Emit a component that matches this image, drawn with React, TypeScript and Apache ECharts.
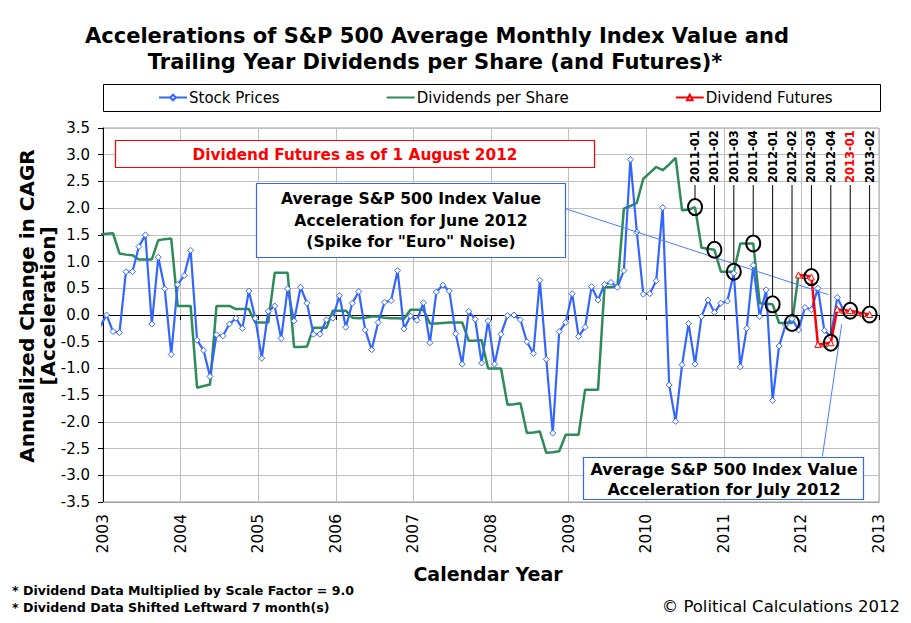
import React, { useEffect, useRef } from 'react';
import * as echarts from 'echarts';

const FONT = '"DejaVu Sans", Verdana, sans-serif';
const BLUE = '#3366ff';
const GREEN = '#2e8b57';
const RED = '#ff0000';

// monthly points, first point sits just before 2003 (Excel date axis offset)
const START_YEAR = 2003;
const MONTH_OFFSET = -0.45;
const FUTURES_START = 108;
const Y_MIN = -3.5;
const Y_MAX = 3.5;

const STOCK_PRICES = [
  -0.22, 0.0, -0.31, -0.33, 0.81, 0.81, 1.28, 1.5, -0.17, 1.08, 0.49, -0.74,
  0.57, 0.74, 1.21, -0.47, -0.66, -1.15, -0.37, -0.39, -0.17, -0.06, -0.25, 0.45,
  -0.06, -0.81, 0.07, 0.17, -0.44, 0.49, -0.11, 0.52, 0.22, -0.36, -0.36, -0.09,
  -0.06, 0.36, -0.23, 0.22, 0.44, -0.28, -0.65, -0.14, 0.24, 0.27, 0.83, -0.26,
  -0.02, -0.1, 0.23, -0.52, 0.43, 0.56, 0.45, -0.35, -0.92, 0.07, -0.08, -0.9,
  -0.11, -0.92, -0.36, -0.01, 0.0, -0.09, -0.5, -0.72, 0.65, -0.83, -2.21, -0.31,
  -0.14, 0.4, -0.4, -0.23, 0.53, 0.28, 0.57, 0.61, 0.52, 0.83, 2.91, 1.55,
  0.39, 0.4, 0.64, 2.01, -1.31, -1.99, -0.93, -0.16, -0.92, -0.03, 0.28, 0.05,
  0.22, 0.26, 0.78, -0.97, -0.25, 0.93, -0.03, 0.47, -1.6, -0.58, -0.19, -0.07,
  -0.28, 0.14, 0.1, 0.5, -0.29, -0.4, 0.33, 0.08,
];

const DIVIDENDS = [
  1.51, 1.52, 1.53, 1.15, 1.13, 1.12, 1.04, 1.04, 1.04, 1.4, 1.42, 1.43,
  0.17, 0.17, 0.17, -1.36, -1.33, -1.3, 0.17, 0.17, 0.17, 0.11, 0.11, 0.11,
  -0.14, -0.14, -0.14, 0.79, 0.79, 0.79, -0.6, -0.6, -0.59, -0.24, -0.24, -0.24,
  0.08, 0.08, 0.08, -0.05, -0.06, -0.05, -0.03, -0.03, -0.05, -0.06, -0.06, -0.07,
  0.1, 0.1, 0.1, -0.16, -0.16, -0.15, -0.14, -0.14, -0.14, -0.48, -0.48, -0.47,
  -1.0, -1.0, -1.0, -1.68, -1.67, -1.65, -2.21, -2.2, -2.18, -2.58, -2.57, -2.55,
  -2.24, -2.24, -2.24, -1.4, -1.4, -1.4, 0.52, 0.52, 0.53, 1.99, 2.04, 2.1,
  2.55, 2.66, 2.77, 2.71, 2.82, 2.94, 1.96, 1.97, 2.02, 1.26, 1.24, 1.22,
  0.81, 0.81, 0.81, 1.34, 1.34, 1.34, 0.22, 0.21, 0.2, -0.15, -0.15, -0.15,
  0.75,
];

const FUTURES = [0.75, 0.74, 0.71, -0.55, -0.54, -0.52, 0.11, 0.09, 0.08, 0.05, 0.03, 0.01];

const QUARTER_LABELS = [
  '2011-01', '2011-02', '2011-03', '2011-04', '2012-01',
  '2012-02', '2012-03', '2012-04', '2013-01', '2013-02',
];
const QUARTER_MONTHS = [92, 95, 98, 101, 104, 107, 110, 113, 116, 119];

const monthX = (i: number) => START_YEAR + (i + MONTH_OFFSET) / 12;

const valueAt = (i: number) =>
  i < FUTURES_START ? DIVIDENDS[i] : FUTURES[i - FUTURES_START];

const boxText = (text: string, x: number, y: number, color: string, size: number) => ({
  type: 'text',
  x,
  y,
  z: 101,
  style: {
    text,
    fill: color,
    font: `bold ${size}px ${FONT}`,
    align: 'center',
    verticalAlign: 'middle',
    textAlign: 'center',
    textVerticalAlign: 'middle',
  },
});

const plainText = (
  text: string,
  x: number,
  y: number,
  font: string,
  align: string,
  rotation = 0,
) => ({
  type: 'text',
  x,
  y,
  rotation,
  z: 101,
  style: {
    text,
    fill: '#000',
    font,
    align,
    verticalAlign: 'middle',
    textAlign: align,
    textVerticalAlign: 'middle',
  },
});

const boxRect = (x: number, y: number, width: number, height: number, stroke: string) => ({
  type: 'rect',
  z: 100,
  shape: { x, y, width, height },
  style: { fill: '#fff', stroke, lineWidth: 1.2 },
});

export default function App() {
  const chartRef = useRef<HTMLDivElement>(null);

  useEffect(() => {
    if (!chartRef.current) return;
    const chart = echarts.init(chartRef.current, undefined, { renderer: 'svg' });

    const stockData = STOCK_PRICES.map((v, i) => [monthX(i), v]);
    const dividendData = DIVIDENDS.map((v, i) => [monthX(i), v]);
    const futuresData = FUTURES.map((v, k) => [monthX(k + FUTURES_START), v]);
    const quarterData = QUARTER_MONTHS.map((m) => [monthX(m), valueAt(m)]);

    chart.setOption({
      animation: false,
      backgroundColor: '#fff',
      textStyle: { fontFamily: FONT },
      grid: {
        left: 103,
        top: 128,
        width: 776,
        height: 374,
        show: true,
        borderColor: '#a0a0a0',
        borderWidth: 1,
        backgroundColor: 'transparent',
      },
      legend: {
        data: [
          { name: 'Stock Prices' },
          { name: 'Dividends per Share', itemStyle: { opacity: 0 } },
          { name: 'Dividend Futures' },
        ],
        left: 158,
        top: 90,
        padding: 0,
        itemGap: 106,
        itemWidth: 28,
        itemHeight: 7,
        selectedMode: false,
        textStyle: { fontSize: 15, color: '#000', fontFamily: FONT, padding: [0, 0, 0, -3] },
      },
      xAxis: [
        {
          type: 'value',
          min: 2003,
          max: 2013,
          interval: 1,
          position: 'bottom',
          axisLine: { onZero: false, lineStyle: { color: '#a0a0a0' } },
          axisTick: { show: false },
          axisLabel: {
            rotate: 90,
            fontSize: 15.5,
            color: '#000',
            fontFamily: FONT,
            margin: 12,
            formatter: (v: number) => String(v),
          },
          splitLine: { show: true, lineStyle: { color: '#c0c0c0', width: 1 } },
        },
        {
          type: 'value',
          min: 2003,
          max: 2013,
          interval: 1,
          position: 'top',
          axisLine: { onZero: true, lineStyle: { color: '#000', width: 1 } },
          axisTick: { show: true, inside: true, length: 5, lineStyle: { color: '#000' } },
          axisLabel: { show: false },
          splitLine: { show: false },
        },
      ],
      yAxis: {
        type: 'value',
        min: Y_MIN,
        max: Y_MAX,
        interval: 0.5,
        axisLine: { show: true, onZero: false, lineStyle: { color: '#000', width: 1 } },
        axisTick: { show: true, length: 5, lineStyle: { color: '#000' } },
        axisLabel: {
          fontSize: 15,
          color: '#000',
          fontFamily: FONT,
          margin: 13,
          formatter: (v: number) => v.toFixed(1),
        },
        splitLine: { show: true, lineStyle: { color: '#c0c0c0', width: 1 } },
      },
      series: [
        {
          name: 'Dividends per Share',
          type: 'line',
          data: dividendData,
          symbol: 'none',
          showSymbol: false,
          color: GREEN,
          lineStyle: { color: GREEN, width: 2.5 },
          z: 2,
        },
        {
          name: 'Stock Prices',
          type: 'line',
          data: stockData,
          symbol: 'diamond',
          symbolSize: 6,
          showSymbol: true,
          color: BLUE,
          lineStyle: { color: BLUE, width: 2.2 },
          itemStyle: { color: '#fff', borderColor: BLUE, borderWidth: 1 },
          z: 3,
          markLine: {
            silent: true,
            symbol: ['none', 'arrow'],
            symbolSize: [0, 14],
            label: { show: false },
            lineStyle: { color: '#4d7cff', width: 1, type: 'solid' },
            itemStyle: { color: BLUE },
            data: [
              [{ coord: [2008.96, 1.99] }, { coord: [2012.35, 0.38] }],
              [{ coord: [2012.27, -2.65] }, { coord: [2012.52, -0.17] }],
            ],
          },
        },
        {
          name: 'Dividend Futures',
          type: 'line',
          data: futuresData,
          symbol: 'triangle',
          symbolSize: 6,
          showSymbol: true,
          color: RED,
          lineStyle: { color: RED, width: 2.5 },
          itemStyle: { color: '#fff', borderColor: RED, borderWidth: 1 },
          z: 4,
        },
        {
          name: 'Quarters',
          type: 'custom',
          coordinateSystem: 'cartesian2d',
          data: quarterData,
          encode: { x: 0, y: 1 },
          silent: true,
          z: 6,
          renderItem: (params: any, api: any) => {
            const pt = api.coord([api.value(0), api.value(1)]);
            const top = api.coord([api.value(0), Y_MAX])[1];
            const label = QUARTER_LABELS[params.dataIndex];
            const base = top + 55;
            return {
              type: 'group',
              children: [
                {
                  type: 'line',
                  shape: { x1: pt[0], y1: base + 2, x2: pt[0], y2: pt[1] - 8 },
                  style: { stroke: '#000', lineWidth: 1 },
                },
                {
                  type: 'ellipse',
                  shape: { cx: pt[0], cy: pt[1], rx: 7, ry: 8 },
                  style: { fill: 'none', stroke: '#000', lineWidth: 2 },
                },
                {
                  type: 'text',
                  x: pt[0],
                  y: base,
                  rotation: Math.PI / 2,
                  style: {
                    text: label,
                    fill: label === '2013-01' ? RED : '#000',
                    font: `bold 11.5px ${FONT}`,
                    align: 'left',
                    verticalAlign: 'middle',
                    textAlign: 'left',
                    textVerticalAlign: 'middle',
                  },
                },
              ],
            };
          },
        },
      ],
      graphic: [
        plainText('Accelerations of S&P 500 Average Monthly Index Value and', 437, 36, `bold 21px ${FONT}`, 'center'),
        plainText('Trailing Year Dividends per Share (and Futures)*', 435, 62, `bold 21px ${FONT}`, 'center'),
        {
          type: 'rect',
          z: 99,
          shape: { x: 103.5, y: 84.5, width: 777, height: 27 },
          style: { fill: 'none', stroke: '#000', lineWidth: 1 },
        },
        plainText('Annualized Change in CAGR', 27, 306, `bold 20px ${FONT}`, 'center', Math.PI / 2),
        plainText('[Acceleration]', 48, 306, `bold 20px ${FONT}`, 'center', Math.PI / 2),
        plainText('Calendar Year', 488, 574, `bold 19px ${FONT}`, 'center'),
        plainText('* Dividend Data Multiplied by Scale Factor = 9.0', 12, 590, `bold 12.6px ${FONT}`, 'left'),
        plainText('* Dividend Data Shifted Leftward 7 month(s)', 12, 607, `bold 12.6px ${FONT}`, 'left'),
        plainText('\u00a9 Political Calculations 2012', 900, 606, `16.5px ${FONT}`, 'right'),
        boxRect(115.5, 140.5, 479, 27, RED),
        boxText('Dividend Futures as of 1 August 2012', 355, 154.5, RED, 15.3),
        boxRect(256.5, 183.5, 309, 74, BLUE),
        boxText('Average S&P 500 Index Value', 411, 199, '#000', 15.6),
        boxText('Acceleration for June 2012', 411, 220.5, '#000', 15.6),
        boxText('(Spike for "Euro" Noise)', 411, 242, '#000', 15.6),
        boxRect(583.5, 457.5, 280, 42, BLUE),
        boxText('Average S&P 500 Index Value', 724, 469.5, '#000', 16),
        boxText('Acceleration for July 2012', 724, 489.5, '#000', 16),
      ],
    });

    return () => {
      chart.dispose();
    };
  }, []);

  return (
    <div
      ref={chartRef}
      style={{ position: 'absolute', left: 0, top: 0, width: 911, height: 623, background: '#fff' }}
    />
  );
}
